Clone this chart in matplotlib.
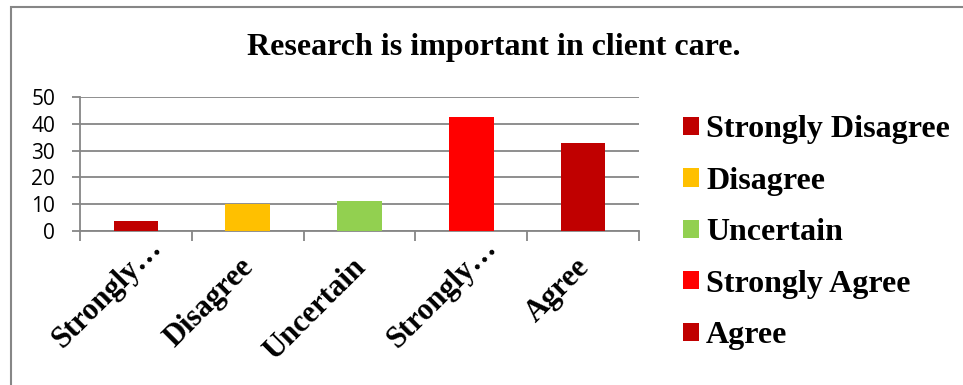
import matplotlib.pyplot as plt
import matplotlib.transforms as mtransforms
import numpy as np
from matplotlib.patches import Rectangle

categories = ["Strongly Disagree", "Disagree", "Uncertain", "Strongly Agree", "Agree"]
tick_labels = ["Strongly…", "Disagree", "Uncertain", "Strongly…", "Agree"]
values = [3.7, 10.0, 11.0, 42.6, 32.7]
colors = ["#C00000", "#FFC000", "#92D050", "#FF0000", "#C00000"]

W, H = 963, 385
fig = plt.figure(figsize=(W / 100, H / 100), dpi=100)
ax = fig.add_axes([80 / W, 1 - 230.7 / H, (639 - 80) / W, (230.7 - 97.3) / H])

x = np.arange(len(categories))
bars = ax.bar(x, values, width=0.4, color=colors, zorder=3)

ax.set_xlim(-0.5, len(categories) - 0.5)
ax.set_ylim(0, 50)
ax.set_yticks(range(0, 51, 10))
ax.tick_params(axis="y", labelsize=15, length=6, width=1.3, color="#868686", pad=12)
for lbl in ax.get_yticklabels():
    lbl.set_fontfamily("Open Sans")

# category boundaries carry the x tick marks
ax.set_xticks(np.arange(-0.5, len(categories)))
ax.set_xticklabels([])
ax.tick_params(axis="x", length=7, color="#868686", width=1.3)

# rotated category labels, slid along their own direction so truncated
# labels reach further past the bar centre
base = mtransforms.blended_transform_factory(ax.transData, ax.transAxes)
for xi, text in zip(x, tick_labels):
    shift = 11.5 if text.endswith("…") else -8.5   # points along the 45° line
    d = shift / np.sqrt(2) / 72
    tr = base + mtransforms.ScaledTranslation(d, d - 10 / 72, fig.dpi_scale_trans)
    ax.text(xi, 0, text, transform=tr, rotation=45, rotation_mode="anchor",
            ha="right", va="top", fontsize=22, fontweight="bold",
            fontfamily="Liberation Serif", clip_on=False)

ax.grid(axis="y", color="#868686", linewidth=1.3, zorder=0)
for side in ["top", "right"]:
    ax.spines[side].set_visible(False)
for side in ["left", "bottom"]:
    ax.spines[side].set_color("#868686")
    ax.spines[side].set_linewidth(1.3)

fig.text(494 / W, 1 - 47 / H, "Research is important in client care.",
         ha="center", va="center", fontsize=23, fontweight="bold",
         fontfamily="Liberation Serif")

leg = ax.legend(bars, categories, loc="upper left", bbox_to_anchor=(683 / W, 1 - 115.5 / H),
                bbox_transform=fig.transFigure, frameon=False, borderpad=0,
                borderaxespad=0, handlelength=0.5, handleheight=0.5,
                handletextpad=0.22, labelspacing=0.7,
                prop={"family": "Liberation Serif", "weight": "bold", "size": 23})

# outer chart border
fig.patches.append(Rectangle((11 / W, -0.01), 1.0, 1 - 7 / H + 0.01,
                             transform=fig.transFigure, fill=False,
                             edgecolor="#868686", linewidth=1.5))

fig.savefig("out.png", dpi=100)
